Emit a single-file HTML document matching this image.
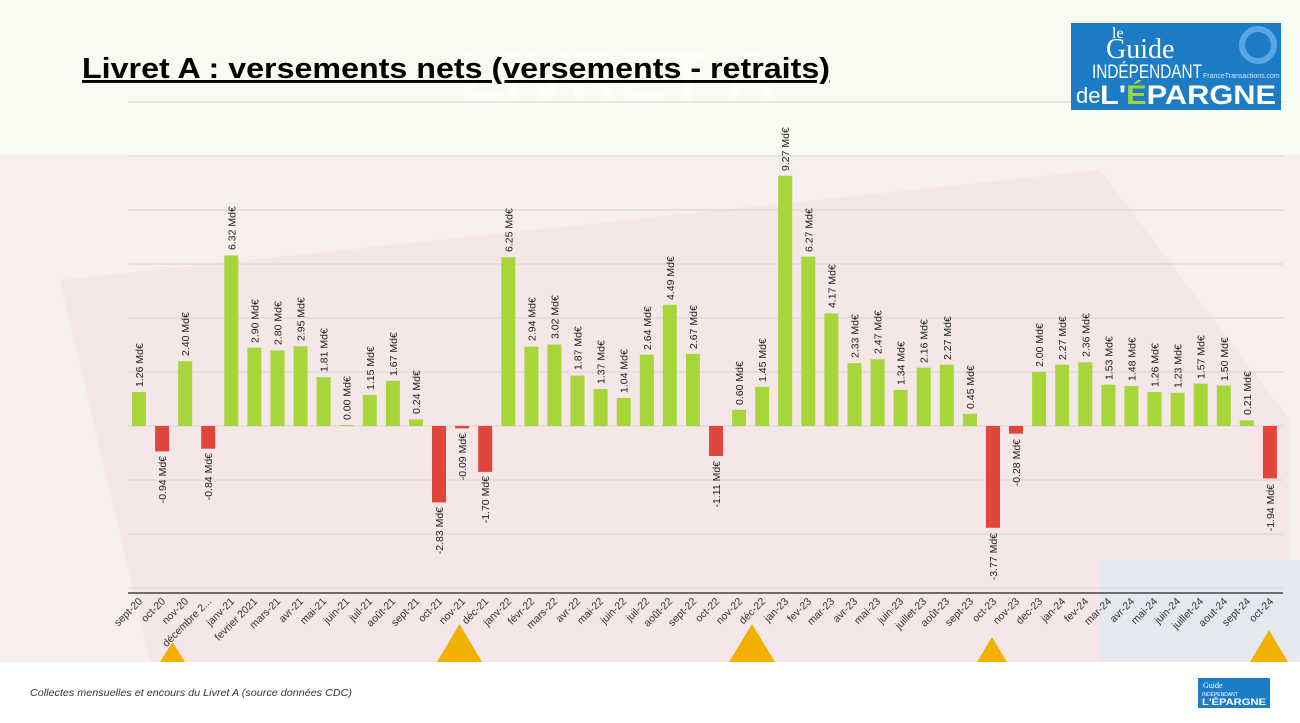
<!DOCTYPE html>
<html><head><meta charset="utf-8"><style>
html,body{margin:0;padding:0;background:#fff;}
svg{display:block;font-family:"Liberation Sans",sans-serif;}
.v{font-size:10.5px;fill:#222;}
.c{font-size:10.5px;fill:#333;}
</style></head><body>
<svg width="1300" height="723" viewBox="0 0 1300 723">
<rect x="0" y="0" width="1300" height="155" fill="#f8fbf1"/>
<rect x="0" y="155" width="1300" height="507" fill="#f7eeee"/>
<polygon points="60,280 1100,170 1290,420 1290,662 150,662" fill="#f3e2e2" opacity="0.6"/>
<rect x="1100" y="560" width="200" height="102" fill="#dfe8f2" opacity="0.7"/>
<text x="460" y="100" font-size="70" font-weight="bold" fill="#ffffff" opacity="0.5">LIVRET A</text>
<g stroke="#d8d4d4" stroke-width="1">
<line x1="128" y1="102" x2="1283" y2="102"/><line x1="128" y1="156" x2="1283" y2="156"/>
<line x1="128" y1="210" x2="1283" y2="210"/><line x1="128" y1="264" x2="1283" y2="264"/>
<line x1="128" y1="318" x2="1283" y2="318"/><line x1="128" y1="372" x2="1283" y2="372"/>
<line x1="128" y1="426" x2="1283" y2="426"/><line x1="128" y1="480" x2="1283" y2="480"/>
<line x1="128" y1="534" x2="1283" y2="534"/><line x1="128" y1="588" x2="1283" y2="588"/>
</g>
<line x1="128" y1="593" x2="1283" y2="593" stroke="#444" stroke-width="1.5"/>
<text x="82" y="78" font-size="29" font-weight="bold" fill="#000" text-decoration="underline" textLength="748" lengthAdjust="spacingAndGlyphs">Livret A : versements nets (versements - retraits)</text>
<g id="bars">
<g transform="translate(139,0)"><rect x="-7" y="392" width="14" height="34" fill="#a6d63a"/><text class="v" transform="translate(4,387) rotate(-90)">1.26 Md€</text></g>
<g transform="translate(162.1,0)"><rect x="-7" y="426" width="14" height="25.4" fill="#e0463c"/><text class="v" text-anchor="end" transform="translate(4,456) rotate(-90)">-0.94 Md€</text></g>
<g transform="translate(185.2,0)"><rect x="-7" y="361.2" width="14" height="64.8" fill="#a6d63a"/><text class="v" transform="translate(4,356) rotate(-90)">2.40 Md€</text></g>
<g transform="translate(208.2,0)"><rect x="-7" y="426" width="14" height="22.7" fill="#e0463c"/><text class="v" text-anchor="end" transform="translate(4,453) rotate(-90)">-0.84 Md€</text></g>
<g transform="translate(231.3,0)"><rect x="-7" y="255.4" width="14" height="170.6" fill="#a6d63a"/><text class="v" transform="translate(4,250) rotate(-90)">6.32 Md€</text></g>
<g transform="translate(254.4,0)"><rect x="-7" y="347.7" width="14" height="78.3" fill="#a6d63a"/><text class="v" transform="translate(4,343) rotate(-90)">2.90 Md€</text></g>
<g transform="translate(277.5,0)"><rect x="-7" y="350.4" width="14" height="75.6" fill="#a6d63a"/><text class="v" transform="translate(4,345) rotate(-90)">2.80 Md€</text></g>
<g transform="translate(300.6,0)"><rect x="-7" y="346.3" width="14" height="79.7" fill="#a6d63a"/><text class="v" transform="translate(4,341) rotate(-90)">2.95 Md€</text></g>
<g transform="translate(323.6,0)"><rect x="-7" y="377.1" width="14" height="48.9" fill="#a6d63a"/><text class="v" transform="translate(4,372) rotate(-90)">1.81 Md€</text></g>
<g transform="translate(346.7,0)"><rect x="-7" y="425" width="14" height="1" fill="#a6d63a"/><text class="v" transform="translate(4,420) rotate(-90)">0.00 Md€</text></g>
<g transform="translate(369.8,0)"><rect x="-7" y="394.9" width="14" height="31.1" fill="#a6d63a"/><text class="v" transform="translate(4,390) rotate(-90)">1.15 Md€</text></g>
<g transform="translate(392.9,0)"><rect x="-7" y="380.9" width="14" height="45.1" fill="#a6d63a"/><text class="v" transform="translate(4,376) rotate(-90)">1.67 Md€</text></g>
<g transform="translate(416,0)"><rect x="-7" y="419.5" width="14" height="6.5" fill="#a6d63a"/><text class="v" transform="translate(4,414) rotate(-90)">0.24 Md€</text></g>
<g transform="translate(439,0)"><rect x="-7" y="426" width="14" height="76.4" fill="#e0463c"/><text class="v" text-anchor="end" transform="translate(4,507) rotate(-90)">-2.83 Md€</text></g>
<g transform="translate(462.1,0)"><rect x="-7" y="426" width="14" height="2.4" fill="#e0463c"/><text class="v" text-anchor="end" transform="translate(4,433) rotate(-90)">-0.09 Md€</text></g>
<g transform="translate(485.2,0)"><rect x="-7" y="426" width="14" height="45.9" fill="#e0463c"/><text class="v" text-anchor="end" transform="translate(4,476) rotate(-90)">-1.70 Md€</text></g>
<g transform="translate(508.3,0)"><rect x="-7" y="257.2" width="14" height="168.8" fill="#a6d63a"/><text class="v" transform="translate(4,252) rotate(-90)">6.25 Md€</text></g>
<g transform="translate(531.4,0)"><rect x="-7" y="346.6" width="14" height="79.4" fill="#a6d63a"/><text class="v" transform="translate(4,341) rotate(-90)">2.94 Md€</text></g>
<g transform="translate(554.4,0)"><rect x="-7" y="344.5" width="14" height="81.5" fill="#a6d63a"/><text class="v" transform="translate(4,339) rotate(-90)">3.02 Md€</text></g>
<g transform="translate(577.5,0)"><rect x="-7" y="375.5" width="14" height="50.5" fill="#a6d63a"/><text class="v" transform="translate(4,370) rotate(-90)">1.87 Md€</text></g>
<g transform="translate(600.6,0)"><rect x="-7" y="389" width="14" height="37" fill="#a6d63a"/><text class="v" transform="translate(4,384) rotate(-90)">1.37 Md€</text></g>
<g transform="translate(623.7,0)"><rect x="-7" y="397.9" width="14" height="28.1" fill="#a6d63a"/><text class="v" transform="translate(4,393) rotate(-90)">1.04 Md€</text></g>
<g transform="translate(646.8,0)"><rect x="-7" y="354.7" width="14" height="71.3" fill="#a6d63a"/><text class="v" transform="translate(4,350) rotate(-90)">2.64 Md€</text></g>
<g transform="translate(669.8,0)"><rect x="-7" y="304.8" width="14" height="121.2" fill="#a6d63a"/><text class="v" transform="translate(4,300) rotate(-90)">4.49 Md€</text></g>
<g transform="translate(692.9,0)"><rect x="-7" y="353.9" width="14" height="72.1" fill="#a6d63a"/><text class="v" transform="translate(4,349) rotate(-90)">2.67 Md€</text></g>
<g transform="translate(716,0)"><rect x="-7" y="426" width="14" height="30" fill="#e0463c"/><text class="v" text-anchor="end" transform="translate(4,461) rotate(-90)">-1.11 Md€</text></g>
<g transform="translate(739.1,0)"><rect x="-7" y="409.8" width="14" height="16.2" fill="#a6d63a"/><text class="v" transform="translate(4,405) rotate(-90)">0.60 Md€</text></g>
<g transform="translate(762.2,0)"><rect x="-7" y="386.8" width="14" height="39.2" fill="#a6d63a"/><text class="v" transform="translate(4,382) rotate(-90)">1.45 Md€</text></g>
<g transform="translate(785.2,0)"><rect x="-7" y="175.7" width="14" height="250.3" fill="#a6d63a"/><text class="v" transform="translate(4,171) rotate(-90)">9.27 Md€</text></g>
<g transform="translate(808.3,0)"><rect x="-7" y="256.7" width="14" height="169.3" fill="#a6d63a"/><text class="v" transform="translate(4,252) rotate(-90)">6.27 Md€</text></g>
<g transform="translate(831.4,0)"><rect x="-7" y="313.4" width="14" height="112.6" fill="#a6d63a"/><text class="v" transform="translate(4,308) rotate(-90)">4.17 Md€</text></g>
<g transform="translate(854.5,0)"><rect x="-7" y="363.1" width="14" height="62.9" fill="#a6d63a"/><text class="v" transform="translate(4,358) rotate(-90)">2.33 Md€</text></g>
<g transform="translate(877.6,0)"><rect x="-7" y="359.3" width="14" height="66.7" fill="#a6d63a"/><text class="v" transform="translate(4,354) rotate(-90)">2.47 Md€</text></g>
<g transform="translate(900.6,0)"><rect x="-7" y="389.8" width="14" height="36.2" fill="#a6d63a"/><text class="v" transform="translate(4,385) rotate(-90)">1.34 Md€</text></g>
<g transform="translate(923.7,0)"><rect x="-7" y="367.7" width="14" height="58.3" fill="#a6d63a"/><text class="v" transform="translate(4,363) rotate(-90)">2.16 Md€</text></g>
<g transform="translate(946.8,0)"><rect x="-7" y="364.7" width="14" height="61.3" fill="#a6d63a"/><text class="v" transform="translate(4,360) rotate(-90)">2.27 Md€</text></g>
<g transform="translate(969.9,0)"><rect x="-7" y="413.8" width="14" height="12.2" fill="#a6d63a"/><text class="v" transform="translate(4,409) rotate(-90)">0.45 Md€</text></g>
<g transform="translate(993,0)"><rect x="-7" y="426" width="14" height="101.8" fill="#e0463c"/><text class="v" text-anchor="end" transform="translate(4,533) rotate(-90)">-3.77 Md€</text></g>
<g transform="translate(1016,0)"><rect x="-7" y="426" width="14" height="7.6" fill="#e0463c"/><text class="v" text-anchor="end" transform="translate(4,439) rotate(-90)">-0.28 Md€</text></g>
<g transform="translate(1039.1,0)"><rect x="-7" y="372" width="14" height="54" fill="#a6d63a"/><text class="v" transform="translate(4,367) rotate(-90)">2.00 Md€</text></g>
<g transform="translate(1062.2,0)"><rect x="-7" y="364.7" width="14" height="61.3" fill="#a6d63a"/><text class="v" transform="translate(4,360) rotate(-90)">2.27 Md€</text></g>
<g transform="translate(1085.3,0)"><rect x="-7" y="362.3" width="14" height="63.7" fill="#a6d63a"/><text class="v" transform="translate(4,357) rotate(-90)">2.36 Md€</text></g>
<g transform="translate(1108.4,0)"><rect x="-7" y="384.7" width="14" height="41.3" fill="#a6d63a"/><text class="v" transform="translate(4,380) rotate(-90)">1.53 Md€</text></g>
<g transform="translate(1131.4,0)"><rect x="-7" y="386" width="14" height="40" fill="#a6d63a"/><text class="v" transform="translate(4,381) rotate(-90)">1.48 Md€</text></g>
<g transform="translate(1154.5,0)"><rect x="-7" y="392" width="14" height="34" fill="#a6d63a"/><text class="v" transform="translate(4,387) rotate(-90)">1.26 Md€</text></g>
<g transform="translate(1177.6,0)"><rect x="-7" y="392.8" width="14" height="33.2" fill="#a6d63a"/><text class="v" transform="translate(4,388) rotate(-90)">1.23 Md€</text></g>
<g transform="translate(1200.7,0)"><rect x="-7" y="383.6" width="14" height="42.4" fill="#a6d63a"/><text class="v" transform="translate(4,379) rotate(-90)">1.57 Md€</text></g>
<g transform="translate(1223.8,0)"><rect x="-7" y="385.5" width="14" height="40.5" fill="#a6d63a"/><text class="v" transform="translate(4,381) rotate(-90)">1.50 Md€</text></g>
<g transform="translate(1246.8,0)"><rect x="-7" y="420.3" width="14" height="5.7" fill="#a6d63a"/><text class="v" transform="translate(4,415) rotate(-90)">0.21 Md€</text></g>
<g transform="translate(1269.9,0)"><rect x="-7" y="426" width="14" height="52.4" fill="#e0463c"/><text class="v" text-anchor="end" transform="translate(4,484) rotate(-90)">-1.94 Md€</text></g>
</g>
<g fill="#f2b000">
<polygon points="160,662 185,662 172.5,642"/>
<polygon points="437,662 482,662 459.5,624"/>
<polygon points="729,662 775,662 752,624"/>
<polygon points="977,662 1007,662 992,637"/>
<polygon points="1250,662 1288,662 1269,630"/>
</g>
<g class="c" text-anchor="end">
<text transform="translate(143,602) rotate(-45)">sept-20</text>
<text transform="translate(166,602) rotate(-45)">oct-20</text>
<text transform="translate(189,602) rotate(-45)">nov-20</text>
<text transform="translate(212,602) rotate(-45)">décembre 2...</text>
<text transform="translate(235,602) rotate(-45)">janv-21</text>
<text transform="translate(258,602) rotate(-45)">fevrier 2021</text>
<text transform="translate(281,602) rotate(-45)">mars-21</text>
<text transform="translate(304,602) rotate(-45)">avr-21</text>
<text transform="translate(327,602) rotate(-45)">mai-21</text>
<text transform="translate(350,602) rotate(-45)">juin-21</text>
<text transform="translate(373,602) rotate(-45)">juil-21</text>
<text transform="translate(396,602) rotate(-45)">août-21</text>
<text transform="translate(420,602) rotate(-45)">sept-21</text>
<text transform="translate(443,602) rotate(-45)">oct-21</text>
<text transform="translate(466,602) rotate(-45)">nov-21</text>
<text transform="translate(489,602) rotate(-45)">déc-21</text>
<text transform="translate(512,602) rotate(-45)">janv-22</text>
<text transform="translate(535,602) rotate(-45)">févr-22</text>
<text transform="translate(558,602) rotate(-45)">mars-22</text>
<text transform="translate(581,602) rotate(-45)">avr-22</text>
<text transform="translate(604,602) rotate(-45)">mai-22</text>
<text transform="translate(627,602) rotate(-45)">juin-22</text>
<text transform="translate(650,602) rotate(-45)">juil-22</text>
<text transform="translate(673,602) rotate(-45)">août-22</text>
<text transform="translate(697,602) rotate(-45)">sept-22</text>
<text transform="translate(720,602) rotate(-45)">oct-22</text>
<text transform="translate(743,602) rotate(-45)">nov-22</text>
<text transform="translate(766,602) rotate(-45)">déc-22</text>
<text transform="translate(789,602) rotate(-45)">jan-23</text>
<text transform="translate(812,602) rotate(-45)">fev-23</text>
<text transform="translate(835,602) rotate(-45)">mar-23</text>
<text transform="translate(858,602) rotate(-45)">avr-23</text>
<text transform="translate(881,602) rotate(-45)">mai-23</text>
<text transform="translate(904,602) rotate(-45)">juin-23</text>
<text transform="translate(927,602) rotate(-45)">juillet-23</text>
<text transform="translate(950,602) rotate(-45)">août-23</text>
<text transform="translate(974,602) rotate(-45)">sept-23</text>
<text transform="translate(997,602) rotate(-45)">oct-23</text>
<text transform="translate(1020,602) rotate(-45)">nov-23</text>
<text transform="translate(1043,602) rotate(-45)">dec-23</text>
<text transform="translate(1066,602) rotate(-45)">jan-24</text>
<text transform="translate(1089,602) rotate(-45)">fev-24</text>
<text transform="translate(1112,602) rotate(-45)">mar-24</text>
<text transform="translate(1135,602) rotate(-45)">avr-24</text>
<text transform="translate(1158,602) rotate(-45)">mai-24</text>
<text transform="translate(1181,602) rotate(-45)">juin-24</text>
<text transform="translate(1204,602) rotate(-45)">juillet-24</text>
<text transform="translate(1228,602) rotate(-45)">aout-24</text>
<text transform="translate(1251,602) rotate(-45)">sept-24</text>
<text transform="translate(1274,602) rotate(-45)">oct-24</text>
</g>
<text x="30" y="696" font-size="10" font-style="italic" fill="#333" textLength="322" lengthAdjust="spacingAndGlyphs">Collectes mensuelles et encours du Livret A (source données CDC)</text>
<rect x="1071" y="23" width="210" height="87" fill="#1d7cc6"/>
<circle cx="1258" cy="45" r="16" fill="none" stroke="#5aa6e0" stroke-width="6"/>
<text x="1112" y="38" font-family="Liberation Serif,serif" font-size="16" fill="#fff">le</text>
<text x="1106" y="58" font-family="Liberation Serif,serif" font-size="28" fill="#fff">Guide</text>
<text x="1092" y="78" font-size="19" fill="#fff" textLength="110" lengthAdjust="spacingAndGlyphs">INDÉPENDANT</text>
<text x="1203" y="78" font-size="7" fill="#cfe6ff">FranceTransactions.com</text>
<text x="1076" y="103" font-size="22" fill="#fff">de</text>
<text x="1100" y="104" font-size="27" font-weight="bold" fill="#fff" textLength="176" lengthAdjust="spacingAndGlyphs">L'<tspan fill="#9fd43a">É</tspan>PARGNE</text>
<rect x="1198" y="678" width="72" height="30" fill="#1d7cc6"/>
<text x="1203" y="688" font-size="8" fill="#fff" font-family="Liberation Serif,serif">Guide</text>
<text x="1202" y="696" font-size="5" fill="#fff">INDÉPENDANT</text>
<text x="1202" y="705" font-size="9" font-weight="bold" fill="#fff" textLength="64" lengthAdjust="spacingAndGlyphs">L'ÉPARGNE</text>
</svg>
</body></html>
